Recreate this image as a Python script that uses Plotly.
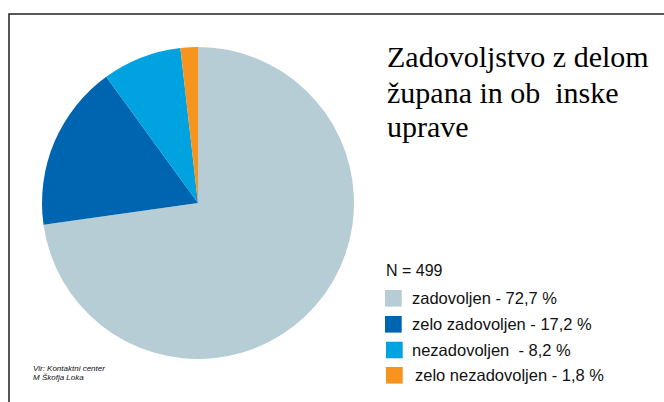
import plotly.graph_objects as go

categories = ["zadovoljen", "zelo zadovoljen", "nezadovoljen", "zelo nezadovoljen"]
values = [72.7, 17.2, 8.2, 1.8]
legend_labels = ["zadovoljen - 72,7 %", "zelo zadovoljen - 17,2 %",
                 "nezadovoljen  - 8,2 %", "zelo nezadovoljen - 1,8 %"]
colors = ["#B6CDD5", "#0065B1", "#00A3DF", "#F7941D"]
title_lines = ["Zadovoljstvo z delom", "župana in ob  inske", "uprave"]
n_text = "N = 499"
source_lines = ["Vir: Kontaktni center", "M Škofja Loka"]

W, H = 664, 402
def px(x): return x / W
def py(y): return 1 - y / H

fig = go.Figure(go.Pie(
    labels=categories, values=values, sort=False, direction="clockwise",
    rotation=0, textinfo="none", hoverinfo="label+percent",
    marker=dict(colors=colors, line=dict(width=0)),
    domain=dict(x=[px(42), px(354)], y=[py(359), py(47)]),
    showlegend=False,
))

shapes = [dict(type="rect", xref="paper", yref="paper",
               x0=px(9), x1=px(720), y0=py(440), y1=py(14),
               line=dict(color="#222222", width=1.5), fillcolor="rgba(0,0,0,0)")]
annotations = []

# title
title_y = [57, 92, 126]
for t, yy in zip(title_lines, title_y):
    annotations.append(dict(text=t, xref="paper", yref="paper", x=px(385), y=py(yy),
                            xanchor="left", yanchor="middle", showarrow=False,
                            font=dict(family="Liberation Serif", size=30, color="#000000")))

annotations.append(dict(text=n_text, xref="paper", yref="paper", x=px(384), y=py(270),
                        xanchor="left", yanchor="middle", showarrow=False,
                        font=dict(family="Liberation Sans", size=16, color="#111111")))

row_y = [298.3, 324.3, 350, 375.3]
box_x = [385, 385, 386, 386]
text_x = [410, 410, 410, 413]
for lab, c, yy, bx, tx in zip(legend_labels, colors, row_y, box_x, text_x):
    shapes.append(dict(type="rect", xref="paper", yref="paper",
                       x0=px(bx), x1=px(bx + 16.7), y0=py(yy + 8.3), y1=py(yy - 8.3),
                       line=dict(width=0), fillcolor=c))
    annotations.append(dict(text=lab, xref="paper", yref="paper", x=px(tx), y=py(yy),
                            xanchor="left", yanchor="middle", showarrow=False,
                            font=dict(family="Liberation Sans", size=16.5, color="#111111")))

for s, yy in zip(source_lines, [368, 377.5]):
    annotations.append(dict(text="<i>" + s + "</i>", xref="paper", yref="paper", x=px(31), y=py(yy),
                            xanchor="left", yanchor="middle", showarrow=False,
                            font=dict(family="Liberation Sans", size=8, color="#111111")))

fig.update_layout(width=W, height=H, margin=dict(l=0, r=0, t=0, b=0),
                  paper_bgcolor="white", plot_bgcolor="white",
                  shapes=shapes, annotations=annotations)

fig.write_html("out.html", config={"displayModeBar": False},
               post_script="document.body.style.margin='0';")
